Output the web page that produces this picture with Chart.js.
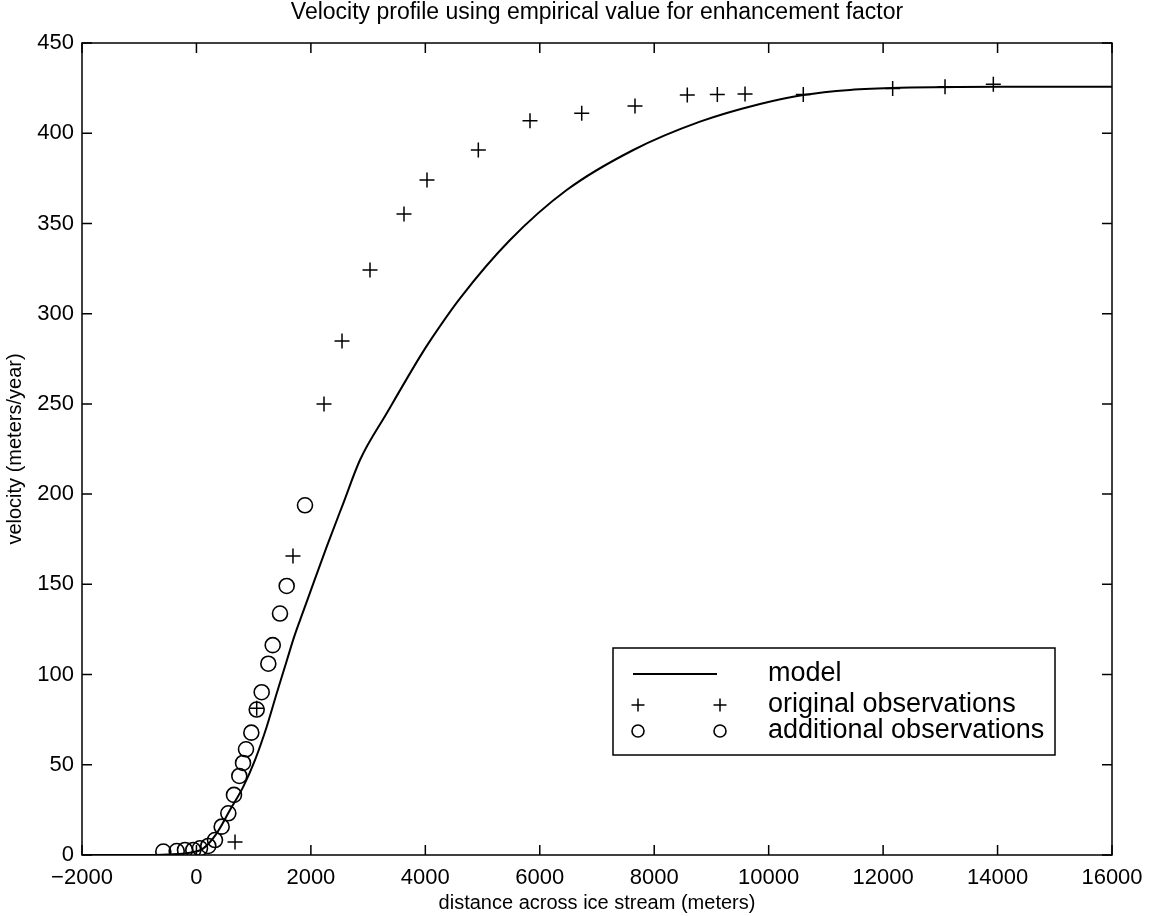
<!DOCTYPE html>
<html>
<head>
<meta charset="utf-8">
<script src="https://cdn.jsdelivr.net/npm/chart.js@4.4.1/dist/chart.umd.min.js"></script>
<style>
  html, body { margin: 0; padding: 0; background: #fff; }
  #wrap { width: 1154px; height: 916px; }
</style>
</head>
<body>
<div id="wrap"><canvas id="chartPerfil" width="1154" height="916"></canvas></div>
<script>
// valores
const modeloX = [-2000, -1000, -500, -113, 120, 354, 586, 819, 1023, 1228, 1403, 1577, 1693, 1820, 1955, 2277, 2566, 2858, 3325, 3907, 4111, 4606, 5480, 6470, 7635, 8800, 9849, 10605, 11421, 12295, 14043, 16000];
const modeloY = [0, 0, 0.3, 1.3, 3.7, 12, 24.9, 37.9, 52.6, 71.1, 89.6, 107.5, 119.5, 131, 142.8, 170.9, 194.9, 218.9, 244.8, 276.2, 286.3, 308.5, 340.8, 368.5, 390.7, 406.4, 416.2, 421.2, 424, 425.2, 425.8, 425.8];

const originalX = [674, 1053, 1687, 2229, 2544, 3033, 3627, 4029, 4926, 5829, 6733, 7664, 8578, 9103, 9587, 10605, 12167, 13082, 13926];
const originalY = [7.2, 81.3, 165.7, 250, 284.9, 324.2, 355.2, 374.1, 390.7, 406.9, 411.0, 415.1, 421.2, 421.5, 421.7, 421.5, 424.8, 425.8, 427.1];

const adicionalX = [-579, -345, -200, -55, 62, 207, 324, 441, 557, 656, 749, 814, 866, 959, 1053, 1140, 1256, 1333, 1460, 1577, 1897];
const adicionalY = [1.9, 2.2, 2.8, 2.8, 3.7, 5.0, 8.3, 15.7, 23.1, 33.3, 43.8, 51.0, 58.6, 67.8, 80.6, 90.2, 106.0, 116.3, 133.8, 149.1, 193.8];

const ticksX = [-2000, 0, 2000, 4000, 6000, 8000, 10000, 12000, 14000, 16000];
const ticksY = [0, 50, 100, 150, 200, 250, 300, 350, 400, 450];

const etiquetas = ["model", "original observations", "additional observations"];
const titulo = "Velocity profile using empirical value for enhancement factor";

const fuente = '"Liberation Sans", Arial, Helvetica, sans-serif';
const puntos = (xs, ys) => xs.map((x, i) => ({ x, y: ys[i] }));
const formato = v => v < 0 ? "\u2212" + Math.abs(v) : String(v);

// titulo centrado sobre el area del grafico
const tituloPlugin = {
    id: "tituloPlugin",
    afterDraw(chart) {
        const { ctx, chartArea: a } = chart;
        ctx.save();
        ctx.fillStyle = "#000";
        ctx.font = "23px " + fuente;
        ctx.textAlign = "center";
        ctx.textBaseline = "middle";
        ctx.fillText(titulo, (a.left + a.right) / 2, 13);
        ctx.restore();
    }
};

// marco y marcas hacia adentro (estilo matlab)
const marcoPlugin = {
    id: "marcoPlugin",
    afterDatasetsDraw(chart) {
        const { ctx, chartArea: a, scales: { x, y } } = chart;
        const largo = 10;
        ctx.save();
        ctx.strokeStyle = "#000";
        ctx.lineWidth = 1.5;
        ctx.strokeRect(a.left, a.top, a.right - a.left, a.bottom - a.top);
        ctx.beginPath();
        x.ticks.forEach(t => {
            const px = x.getPixelForValue(t.value);
            ctx.moveTo(px, a.bottom); ctx.lineTo(px, a.bottom - largo);
            ctx.moveTo(px, a.top); ctx.lineTo(px, a.top + largo);
        });
        y.ticks.forEach(t => {
            const py = y.getPixelForValue(t.value);
            ctx.moveTo(a.left, py); ctx.lineTo(a.left + largo, py);
            ctx.moveTo(a.right, py); ctx.lineTo(a.right - largo, py);
        });
        ctx.stroke();
        ctx.restore();
    }
};

function dibujarMarca(ctx, ds, x, y, r) {
    ctx.strokeStyle = ds.borderColor;
    ctx.lineWidth = ds.borderWidth;
    ctx.beginPath();
    if (ds.pointStyle === "cross") {
        ctx.moveTo(x - r, y); ctx.lineTo(x + r, y);
        ctx.moveTo(x, y - r); ctx.lineTo(x, y + r);
    } else {
        ctx.arc(x, y, r, 0, Math.PI * 2);
    }
    ctx.stroke();
}

// leyenda tipo matlab dentro del area
const leyendaPlugin = {
    id: "leyendaPlugin",
    afterDraw(chart) {
        const { ctx, chartArea: a } = chart;
        const ancho = 442, alto = 107;
        const x0 = a.right - 57 - ancho;
        const y0 = a.bottom - 100 - alto;
        ctx.save();
        ctx.fillStyle = "#fff";
        ctx.fillRect(x0, y0, ancho, alto);
        ctx.strokeStyle = "#000";
        ctx.lineWidth = 1.5;
        ctx.strokeRect(x0, y0, ancho, alto);

        const filas = [y0 + 26, y0 + 57, y0 + 83];
        const m1 = x0 + 25, m2 = x0 + 107;
        chart.data.datasets.forEach((ds, i) => {
            const fy = filas[i];
            if (ds.showLine) {
                ctx.strokeStyle = ds.borderColor;
                ctx.lineWidth = ds.borderWidth;
                ctx.beginPath();
                ctx.moveTo(x0 + 20, fy); ctx.lineTo(x0 + 104, fy);
                ctx.stroke();
            } else {
                const r = ds.pointStyle === "cross" ? 6.5 : 6;
                dibujarMarca(ctx, ds, m1, fy, r);
                dibujarMarca(ctx, ds, m2, fy, r);
            }
            ctx.fillStyle = "#000";
            ctx.font = "27px " + fuente;
            ctx.textAlign = "left";
            ctx.textBaseline = "middle";
            ctx.fillText(etiquetas[i], x0 + 155, fy);
        });
        ctx.restore();
    }
};

const ctx = document.getElementById("chartPerfil").getContext("2d");

new Chart(ctx, {
    type: "scatter",
    data: {
        datasets: [
            {
                label: etiquetas[0],
                data: puntos(modeloX, modeloY),
                showLine: true,
                borderColor: "#000",
                borderWidth: 2,
                pointRadius: 0,
                cubicInterpolationMode: "monotone",
                order: 1
            },
            {
                label: etiquetas[1],
                data: puntos(originalX, originalY),
                pointStyle: "cross",
                pointRadius: 7.5,
                borderColor: "#000",
                borderWidth: 1.5,
                backgroundColor: "transparent",
                order: 0
            },
            {
                label: etiquetas[2],
                data: puntos(adicionalX, adicionalY),
                pointStyle: "circle",
                pointRadius: 7.5,
                borderColor: "#000",
                borderWidth: 1.6,
                backgroundColor: "transparent",
                order: 0
            }
        ]
    },
    options: {
        responsive: false,
        animation: false,
        layout: { padding: { left: 0, right: 42, top: 43, bottom: 0 } },
        plugins: {
            legend: { display: false },
            tooltip: { enabled: false },
            title: { display: false }
        },
        scales: {
            x: {
                type: "linear",
                min: -2000,
                max: 16000,
                afterBuildTicks: s => { s.ticks = ticksX.map(v => ({ value: v })); },
                afterFit: s => { s.height = 61; },
                grid: { display: false, drawTicks: false },
                border: { display: false },
                ticks: {
                    color: "#000",
                    font: { family: fuente, size: 22 },
                    padding: 10,
                    maxRotation: 0,
                    autoSkip: false,
                    callback: formato
                },
                title: {
                    display: true,
                    text: "distance across ice stream (meters)",
                    color: "#000",
                    font: { family: fuente, size: 20 },
                    padding: { top: 0, bottom: 1 }
                }
            },
            y: {
                type: "linear",
                min: 0,
                max: 450,
                afterBuildTicks: s => { s.ticks = ticksY.map(v => ({ value: v })); },
                afterFit: s => { s.width = 82; },
                grid: { display: false, drawTicks: false },
                border: { display: false },
                ticks: {
                    color: "#000",
                    font: { family: fuente, size: 22 },
                    padding: 8,
                    autoSkip: false,
                    callback: formato
                },
                title: {
                    display: true,
                    text: "velocity (meters/year)",
                    color: "#000",
                    font: { family: fuente, size: 20 },
                    padding: { top: 3, bottom: 0 }
                }
            }
        }
    },
    plugins: [marcoPlugin, tituloPlugin, leyendaPlugin]
});
</script>
</body>
</html>
